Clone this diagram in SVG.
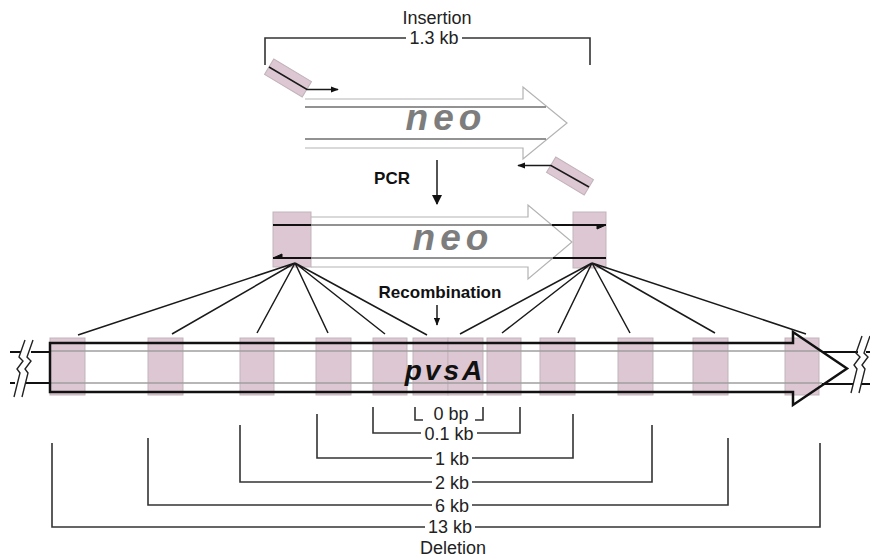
<svg xmlns="http://www.w3.org/2000/svg" width="870" height="560" viewBox="0 0 870 560">
  <defs>
    <style>
      .lbl { font-family: "Liberation Sans", Arial, sans-serif; font-size: 18px; fill: #222; text-anchor: middle; }
      .bold { font-family: "Liberation Sans", Arial, sans-serif; font-weight: bold; font-size: 17px; fill: #111; text-anchor: middle; }
      .gene { font-family: "Liberation Sans", Arial, sans-serif; font-weight: bold; font-style: italic; text-anchor: middle; }
      .neo { font-size: 37px; fill: #7d7d7d; letter-spacing: 5px; }
      .pvs { font-size: 28px; fill: #111; letter-spacing: 3px; }
      .box { fill: #dcc7d2; stroke: #c2b3bb; stroke-width: 1; }
      .outline { fill: #fff; stroke: #b3b3b3; stroke-width: 1.2; }
      .strand { stroke: #6f6f6f; stroke-width: 1.6; fill: none; }
      .flank { stroke: #111; stroke-width: 2.2; fill: none; }
      .wire { stroke: #1a1a1a; stroke-width: 1.5; fill: none; }
      .bracket { stroke: #333; stroke-width: 1.6; fill: none; }
      .inner { stroke: #a0a0a0; stroke-width: 1.5; fill: none; }
      .breakmark { stroke: #222; stroke-width: 1.4; fill: none; }
    </style>
    <marker id="tip" viewBox="0 0 10 8" refX="9" refY="4" markerWidth="8" markerHeight="7" markerUnits="userSpaceOnUse" orient="auto">
      <path d="M0,0 L10,4 L0,8 z" fill="#111"/>
    </marker>
    <marker id="tipBig" viewBox="0 0 10 10" refX="9" refY="5" markerWidth="10" markerHeight="12" markerUnits="userSpaceOnUse" orient="auto">
      <path d="M0,0 L10,5 L0,10 z" fill="#111"/>
    </marker>
  </defs>

  <rect width="870" height="560" fill="#fff"/>

  <!-- Insertion bracket -->
  <g id="insertion">
    <path class="bracket" d="M265,65 V38 H406 M462,38 H590 V65"/>
    <text class="lbl" x="437" y="24">Insertion</text>
    <text class="lbl" x="434" y="44">1.3 kb</text>
  </g>

  <!-- Forward primer -->
  <g id="primer-fwd">
    <rect class="box" x="-22" y="-9" width="44" height="18" transform="translate(288,78) rotate(31)" stroke="none"/>
    <path class="wire" d="M269,67 L307,89.5 H338" marker-end="url(#tip)" stroke-width="1.3"/>
  </g>

  <!-- neo cassette (template) -->
  <g id="neo-template">
    <path class="outline" d="M305,99 H523 V87 L567,123 L523,159 V148 H305"/>
    <path class="strand" d="M305,107 H546 M305,139 H546"/>
    <text class="gene neo" x="446" y="130">neo</text>
  </g>

  <!-- Reverse primer -->
  <g id="primer-rev">
    <rect class="box" x="-22" y="-9" width="44" height="18" transform="translate(570,176) rotate(31)" stroke="none"/>
    <path class="wire" d="M589,187 L551,165.5 H518" marker-end="url(#tip)" stroke-width="1.3"/>
  </g>

  <!-- PCR step -->
  <g id="pcr">
    <text class="bold" x="392" y="184">PCR</text>
    <path class="wire" d="M437,160 V204" marker-end="url(#tipBig)"/>
  </g>

  <!-- neo cassette with homology arms -->
  <g id="neo-product">
    <path class="outline" d="M311,217 H528 V205 L572,242 L528,279 V267 H311"/>
    <rect class="box" x="273" y="212" width="38" height="55"/>
    <rect class="box" x="573" y="212" width="33" height="56"/>
    <path class="strand" d="M311,225 H552 M311,258 H553"/>
    <path class="flank" d="M273,225 H311 M552,225 H606 M273,258 H311 M553,258 H606"/>
    <path d="M606,225 L597,225 L597,229 z" fill="#111" stroke="#111" stroke-width="1"/>
    <path d="M273,258 L282,258 L282,254 z" fill="#111" stroke="#111" stroke-width="1"/>
    <text class="gene neo" x="453" y="250">neo</text>
  </g>

  <!-- Recombination step -->
  <g id="recombination">
    <text class="bold" x="440" y="298" font-size="18">Recombination</text>
    <path class="wire" d="M437,305 V325" marker-end="url(#tip)"/>
  </g>

  <!-- Crossover lines from the homology arms to the target sites -->
  <g id="connectors">
    <path class="wire" d="M295,263 L78,335 M295,263 L172,334 M295,263 L257,333 M295,263 L328,333 M295,263 L385,334 M295,263 L427,335"/>
    <path class="wire" d="M592,263 L460,334 M592,263 L502,333 M592,263 L558,333 M592,263 L630,333 M592,263 L715,333 M592,263 L806,334"/>
  </g>

  <!-- pvsA locus -->
  <g id="pvsA">
    <rect x="50" y="343" width="743" height="49" fill="#fff"/>
    <g class="sites">
      <rect class="box" x="50" y="338" width="35" height="57"/>
      <rect class="box" x="148" y="338" width="35" height="57"/>
      <rect class="box" x="240" y="338" width="34" height="57"/>
      <rect class="box" x="316" y="338" width="35" height="57"/>
      <rect class="box" x="373" y="338" width="34" height="57"/>
      <rect class="box" x="413" y="338" width="35" height="57"/>
      <rect class="box" x="448" y="338" width="35" height="57"/>
      <rect class="box" x="487" y="338" width="34" height="57"/>
      <rect class="box" x="540" y="338" width="35" height="57"/>
      <rect class="box" x="618" y="338" width="35" height="57"/>
      <rect class="box" x="693" y="338" width="35" height="57"/>
      <rect class="box" x="785" y="338" width="34" height="57"/>
    </g>
    <path class="inner" d="M50,351 H822 M50,383 H822"/>
    <path d="M50,343 H793 V332 L847,368.5 L793,405 V392 H50 Z" fill="none" stroke="#111" stroke-width="2.5" stroke-linejoin="miter"/>
    <text class="gene pvs" x="445" y="380">pvsA</text>
  </g>

  <!-- Chromosome continues beyond the locus -->
  <g id="flank-left">
    <path stroke="#111" stroke-width="2" d="M10,352 H21 M31,352 H50 M10,383 H15 M25,383 H50"/>
    <path class="breakmark" d="M33,340 L27,357 L31,361 L25,369 L28,373 L22,397"/>
    <path class="breakmark" d="M25,340 L19,357 L23,361 L17,369 L20,373 L14,397"/>
  </g>
  <g id="flank-right">
    <path stroke="#111" stroke-width="2" d="M822,352 H858 M866,352 H870 M822,384 H853 M861,384 H870"/>
    <path class="breakmark" d="M870,336 L864,353 L868,357 L862,365 L865,369 L859,393"/>
    <path class="breakmark" d="M862,336 L856,353 L860,357 L854,365 L857,369 L851,393"/>
  </g>

  <!-- Deletion brackets -->
  <g id="del-0bp">
    <path class="bracket" d="M415,407 V420 H423 M483,407 V420 H475"/>
    <text class="lbl" x="451" y="420">0 bp</text>
  </g>
  <g id="del-0.1kb">
    <path class="bracket" d="M373,407 V433 H421 M477,433 H520 V407"/>
    <text class="lbl" x="449" y="440">0.1 kb</text>
  </g>
  <g id="del-1kb">
    <path class="bracket" d="M317,414 V458 H432 M472,458 H573 V414"/>
    <text class="lbl" x="452" y="465">1 kb</text>
  </g>
  <g id="del-2kb">
    <path class="bracket" d="M240,425 V482 H432 M472,482 H652 V425"/>
    <text class="lbl" x="452" y="489">2 kb</text>
  </g>
  <g id="del-6kb">
    <path class="bracket" d="M148,438 V505 H432 M472,505 H728 V438"/>
    <text class="lbl" x="452" y="512">6 kb</text>
  </g>
  <g id="del-13kb">
    <path class="bracket" d="M52,443 V527 H425 M475,527 H820 V443"/>
    <text class="lbl" x="450" y="533">13 kb</text>
    <text class="lbl" x="453" y="554" font-size="16">Deletion</text>
  </g>
</svg>
